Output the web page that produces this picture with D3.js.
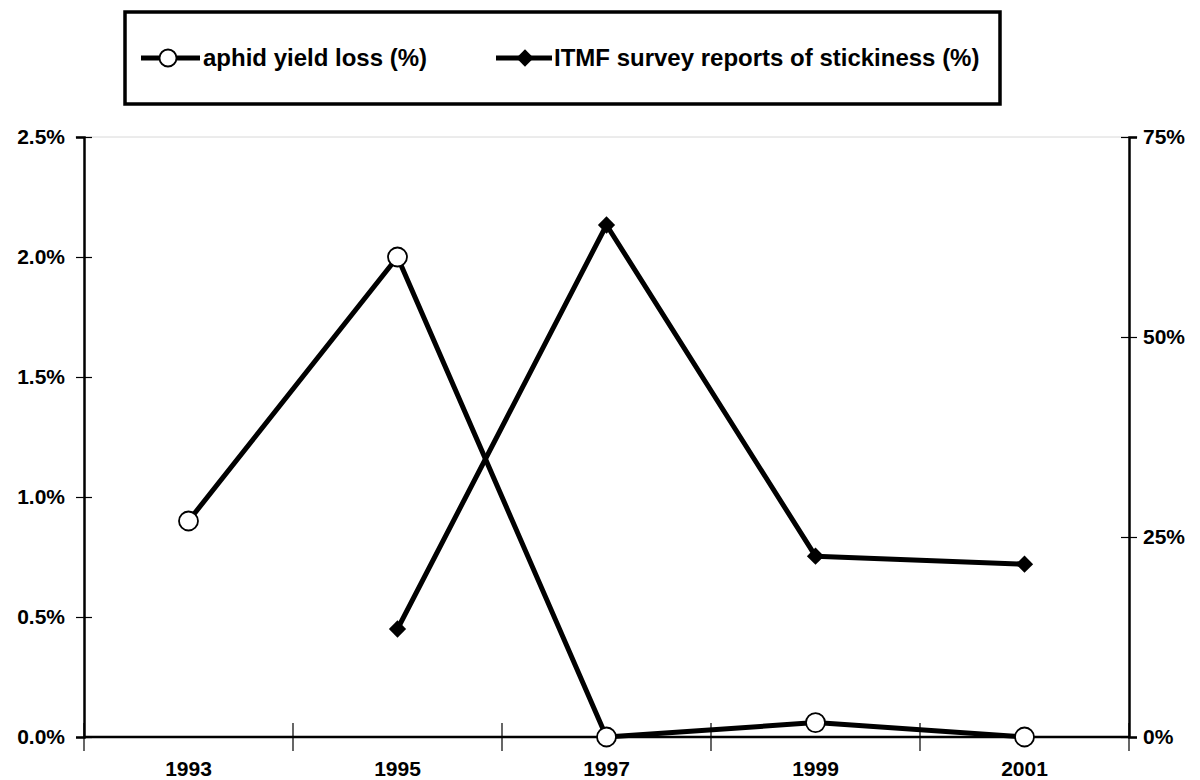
<!DOCTYPE html>
<html>
<head>
<meta charset="utf-8">
<script src="https://cdn.jsdelivr.net/npm/d3@7/dist/d3.min.js"></script>
<style>
  html, body { margin: 0; padding: 0; background: #fff; }
  svg { display: block; }
  text { font-family: "Liberation Sans", Arial, sans-serif; font-weight: bold; fill: #000; }
</style>
</head>
<body>
<svg id="chart" width="1200" height="780"></svg>
<script>
// ---- data ----
const years = ["1993", "1995", "1997", "1999", "2001"];
const aphidYieldLoss = [0.9, 2.0, 0.0, 0.06, 0.0];          // % (left axis)
const itmfStickiness = [null, 13.5, 64.0, 22.6, 21.6];        // % (right axis)
const leftTicks = [0, 0.5, 1.0, 1.5, 2.0, 2.5];
const rightTicks = [0, 25, 50, 75];
const seriesNames = ["aphid yield loss (%)", "ITMF survey reports of stickiness (%)"];

// ---- layout ----
const svg = d3.select("#chart");
const L = 84, R = 1129, T = 137, B = 737;

const x = d3.scaleBand().domain(years).range([L, R]).padding(0);
const yL = d3.scaleLinear().domain([0, 2.5]).range([B, T]);
const yR = d3.scaleLinear().domain([0, 75]).range([B, T]);

// faint plot border at top
svg.append("line").attr("x1", L - 9).attr("x2", R + 9).attr("y1", T).attr("y2", T)
  .attr("stroke", "#d8d8d8").attr("stroke-width", 1);

// left axis
const gL = svg.append("g").attr("transform", `translate(${L},0)`)
  .call(d3.axisLeft(yL).tickValues(leftTicks).tickFormat(d => d3.format(".1f")(d) + "%").tickSize(8).tickPadding(11));
gL.selectAll(".tick line").clone().attr("x2", 8);
// right axis
const gR = svg.append("g").attr("transform", `translate(${R},0)`)
  .call(d3.axisRight(yR).tickValues(rightTicks).tickFormat(d => d + "%").tickSize(8).tickPadding(6));
gR.selectAll(".tick line").clone().attr("x2", -8);
// bottom axis: ticks at band boundaries
const gB = svg.append("g").attr("transform", `translate(0,${B})`)
  .call(d3.axisBottom(x).tickSize(0).tickPadding(24));
const boundaries = years.map(d => x(d)).concat([R]);
gB.selectAll(".bnd").data(boundaries).join("line").attr("class", "bnd")
  .attr("x1", d => d).attr("x2", d => d).attr("y1", -14).attr("y2", 14)
  .attr("stroke", "#000").attr("stroke-width", 1.2);

[gL, gR, gB].forEach(g => {
  g.select(".domain").attr("stroke", "#000").attr("stroke-width", 2.5);
  g.selectAll(".tick line").attr("stroke", "#000").attr("stroke-width", 1.2);
  g.selectAll(".tick text").attr("font-size", 21).attr("font-family", "Liberation Sans, Arial, sans-serif").attr("font-weight", "bold").attr("fill", "#000");
});
gB.select(".domain").attr("d", `M${L},0H${R}`);

const cx = d => x(d) + x.bandwidth() / 2;

const aphidData = years.map((y, i) => ({ y, v: aphidYieldLoss[i] }));
const itmfData = years.map((y, i) => ({ y, v: itmfStickiness[i] })).filter(d => d.v !== null);

svg.append("path").datum(aphidData)
  .attr("d", d3.line().x(d => cx(d.y)).y(d => yL(d.v)))
  .attr("fill", "none").attr("stroke", "#000").attr("stroke-width", 5).attr("stroke-linejoin", "round");
svg.append("path").datum(itmfData)
  .attr("d", d3.line().x(d => cx(d.y)).y(d => yR(d.v)))
  .attr("fill", "none").attr("stroke", "#000").attr("stroke-width", 5).attr("stroke-linejoin", "round");

svg.selectAll(".circ").data(aphidData).join("circle").attr("class", "circ")
  .attr("cx", d => cx(d.y)).attr("cy", d => yL(d.v)).attr("r", 9.5)
  .attr("fill", "#fff").attr("stroke", "#000").attr("stroke-width", 1.8);

const diamond = d3.symbol().type(d3.symbolDiamond2).size(190);
svg.selectAll(".dia").data(itmfData).join("path").attr("class", "dia")
  .attr("transform", d => `translate(${cx(d.y)},${yR(d.v)})`)
  .attr("d", diamond).attr("fill", "#000");

// legend
const lg = svg.append("g");
lg.append("rect").attr("x", 125).attr("y", 12).attr("width", 875).attr("height", 92)
  .attr("fill", "#fff").attr("stroke", "#000").attr("stroke-width", 3.5);
const ly = 58;
// item 1
lg.append("line").attr("x1", 141).attr("x2", 200).attr("y1", ly).attr("y2", ly).attr("stroke", "#000").attr("stroke-width", 5);
lg.append("circle").attr("cx", 168).attr("cy", ly).attr("r", 8.5).attr("fill", "#fff").attr("stroke", "#000").attr("stroke-width", 1.8);
lg.append("text").attr("x", 203).attr("y", ly + 8).attr("font-size", 24).text(seriesNames[0]);
// item 2
lg.append("line").attr("x1", 496).attr("x2", 552).attr("y1", ly).attr("y2", ly).attr("stroke", "#000").attr("stroke-width", 5);
lg.append("path").attr("transform", `translate(525,${ly})`).attr("d", diamond).attr("fill", "#000");
lg.append("text").attr("x", 554).attr("y", ly + 8).attr("font-size", 24).text(seriesNames[1]);
</script>
</body>
</html>
